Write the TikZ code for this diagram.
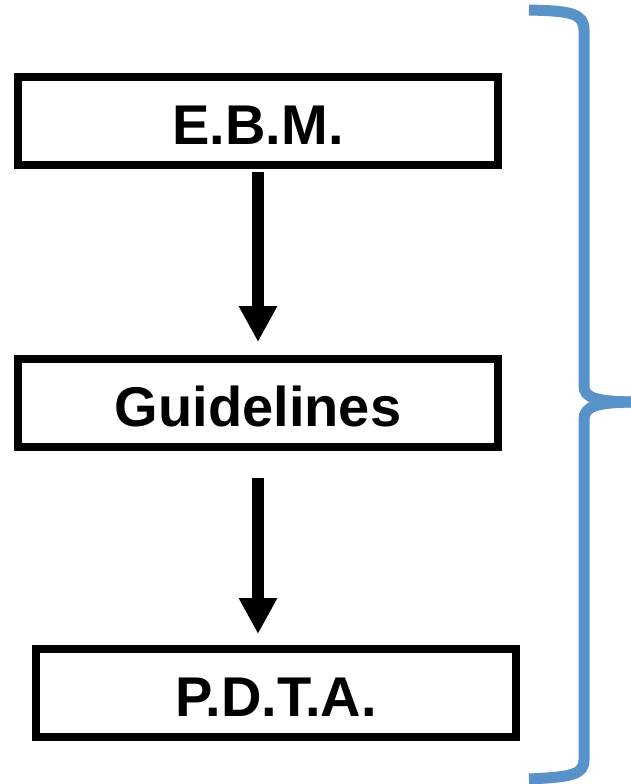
\documentclass[tikz,border=0pt]{standalone}
\usepackage{fontspec}
\setmainfont{Liberation Sans}
\usetikzlibrary{arrows.meta}
\definecolor{braceblue}{RGB}{89,145,201}
\begin{document}
\begin{tikzpicture}[x=1pt,y=-1pt,
  stepbox/.style={draw=black, line width=8pt, fill=white, inner sep=0pt,
    minimum width=480pt, minimum height=88pt,
    font=\bfseries\fontsize{56}{60}\selectfont, text height=46pt, text depth=0pt},
  flow/.style={line width=12pt, -{Triangle[width=36pt,length=36pt]}}]
\useasboundingbox (0,0) rectangle (631,784);
\node[stepbox] (ebm) at (258,121) {E.B.M.};
\node[stepbox] (gl) at (258,403) {Guidelines};
\node[stepbox] (pdta) at (276,693) {P.D.T.A.};
\draw[flow, shorten <=3pt, shorten >=13pt] (ebm.south) -- (gl.north);
\draw[flow, shorten <=27pt, shorten >=11pt] (gl.south) -- (pdta.north -| gl.south);
\draw[braceblue, line width=11pt]
  (529,10) .. controls (570,11) and (584,13) .. (584,30)
  -- (584,386) .. controls (584,398) and (596,402) .. (640,402);
\draw[braceblue, line width=11pt]
  (640,402) .. controls (596,402) and (584,406) .. (584,420)
  -- (584,760) .. controls (584,775) and (570,777) .. (529,779);
\end{tikzpicture}
\end{document}
